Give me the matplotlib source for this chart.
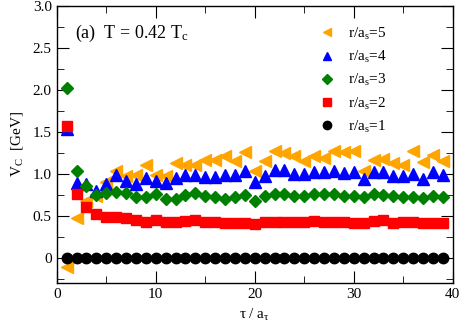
import numpy as np
import matplotlib.pyplot as plt

plt.rcParams.update({
    'font.family': 'Liberation Serif',
    'mathtext.fontset': 'custom',
    'mathtext.rm': 'Liberation Serif',
    'mathtext.it': 'Liberation Serif:italic',
    'mathtext.default': 'rm',
    'font.size': 11,
    'axes.linewidth': 1.0,
})

tau = np.arange(1, 40)

# r/a_s = 1 .. 5, V_C in GeV
v1 = np.zeros(39)
v2 = [1.57, 0.76, 0.60, 0.52, 0.49, 0.485, 0.47, 0.45, 0.425, 0.45,
      0.425, 0.425, 0.44, 0.445, 0.43, 0.43, 0.41, 0.42, 0.42, 0.40,
      0.43, 0.43, 0.43, 0.425, 0.425, 0.44, 0.43, 0.43, 0.425, 0.42,
      0.41, 0.44, 0.445, 0.42, 0.425, 0.425, 0.41, 0.42, 0.42]
v3 = [2.02, 1.03, 0.86, 0.75, 0.77, 0.79, 0.77, 0.73, 0.73, 0.76,
      0.70, 0.70, 0.75, 0.77, 0.74, 0.73, 0.70, 0.73, 0.75, 0.68,
      0.74, 0.76, 0.76, 0.74, 0.74, 0.76, 0.76, 0.76, 0.74, 0.74,
      0.72, 0.76, 0.75, 0.74, 0.73, 0.72, 0.71, 0.74, 0.73]
v4 = [1.53, 0.89, 0.88, 0.80, 0.88, 0.99, 0.92, 0.88, 0.95, 0.92,
      0.89, 0.95, 0.99, 0.99, 0.96, 0.96, 0.99, 0.99, 1.03, 0.90,
      0.98, 1.05, 1.05, 1.00, 1.00, 1.02, 1.02, 1.04, 1.01, 1.02,
      0.94, 1.02, 1.02, 0.98, 0.98, 1.00, 0.94, 1.02, 0.99]
v5 = [-0.11, 0.48, 0.68, 0.74, 0.90, 1.04, 0.98, 0.99, 1.11, 0.99,
      0.97, 1.13, 1.11, 1.11, 1.16, 1.16, 1.21, 1.15, 1.26, 1.03,
      1.15, 1.27, 1.25, 1.21, 1.15, 1.21, 1.19, 1.27, 1.26, 1.27,
      1.03, 1.17, 1.18, 1.13, 1.10, 1.27, 1.14, 1.23, 1.15]

fig = plt.figure(figsize=(4.63, 3.28), dpi=100)
ax = fig.add_axes([0.1225, 0.137, 0.8555, 0.845])

ax.plot(tau, v5, '<', color='orange', ms=8, ls='none', label=r'r/a$_s$=5')
ax.plot(tau, v4, '^', color='blue', ms=8, ls='none', label=r'r/a$_s$=4')
ax.plot(tau, v3, 'D', color='green', ms=6, ls='none', label=r'r/a$_s$=3')
ax.plot(tau, v2, 's', color='red', ms=6.5, ls='none', label=r'r/a$_s$=2')
ax.plot(tau, v1, 'o', color='black', ms=7.5, ls='none', label=r'r/a$_s$=1')

ax.set_xlim(0, 40)
ax.set_ylim(-0.3, 3.0)
ax.set_xticks([0, 10, 20, 30, 40])
ax.set_xticks(np.arange(0, 41, 5), minor=True)
ax.set_yticks([0, 0.5, 1.0, 1.5, 2.0, 2.5, 3.0])
ax.set_yticklabels(['0', '0.5', '1.0', '1.5', '2.0', '2.5', '3.0'])
ax.set_yticks(np.arange(-0.25, 3.01, 0.25), minor=True)
ax.tick_params(which='both', direction='in', top=True, right=True, labelsize=11)
ax.tick_params(which='major', length=8.5)
ax.tick_params(which='minor', length=5)

ax.set_xlabel(r'τ / a$_τ$', fontsize=11, labelpad=4)
ax.set_ylabel(r'V$_C$  [GeV]', fontsize=11, labelpad=6)

ax.text(0.045, 0.9, r'(a)  T = 0.42 T$_c$', transform=ax.transAxes,
        fontsize=13, va='center')

ax.legend(loc='upper left', frameon=False, fontsize=11, handlelength=1.0,
          handletextpad=0.87, markerscale=0.8, labelspacing=0.47,
          borderpad=0, borderaxespad=0, bbox_to_anchor=(0.663, 0.929))

fig.savefig('out.png', dpi=100)
